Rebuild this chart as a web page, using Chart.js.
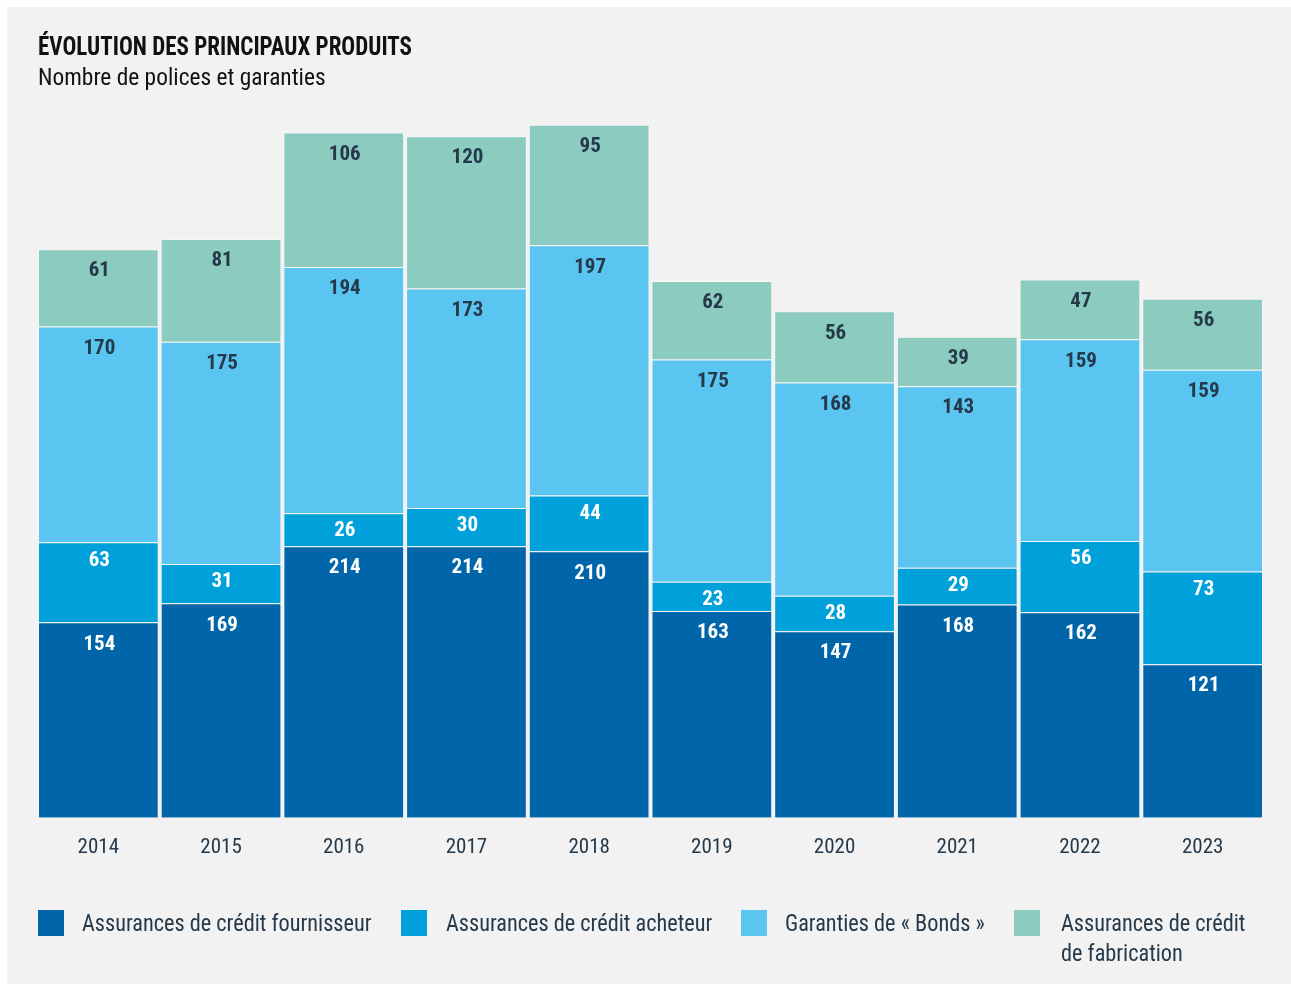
<!DOCTYPE html>
<html lang="fr">
<head>
<meta charset="utf-8">
<title>Évolution des principaux produits</title>
<script src="https://cdn.jsdelivr.net/npm/chart.js@4"></script>
<style>
  html, body { margin: 0; padding: 0; background: #fff; }
  body { width: 1291px; height: 985px; position: relative; overflow: hidden;
         font-family: "Roboto Condensed", "Roboto", sans-serif; color: #25394a; }
  #panneau { position: absolute; left: 7px; top: 7px; right: 0; bottom: 1px; background: #f2f2f2; }
  #zone { position: absolute; left: 0; top: 0; width: 1291px; height: 985px; }
  #titre { position: absolute; left: 38px; top: 31px; font-size: 26px; font-weight: bold; color: #111;
           transform: scaleX(0.885); transform-origin: left top; white-space: nowrap; }
  #soustitre { position: absolute; left: 38px; top: 63px; font-size: 24px; color: #111;
               transform: scaleX(0.975); transform-origin: left top; white-space: nowrap; }
  .leg { position: absolute; top: 910px; font-size: 24px; line-height: 30px; }
  .leg span.carre { position: absolute; left: 0; top: 0; width: 26px; height: 26px; }
  .leg span.txt { position: absolute; top: -2px; white-space: nowrap;
                  transform: scaleX(0.928); transform-origin: left top; }
</style>
</head>
<body>
<div id="panneau"></div>
<div id="zone"><canvas id="grafico"></canvas></div>
<div id="titre">ÉVOLUTION DES PRINCIPAUX PRODUITS</div>
<div id="soustitre">Nombre de polices et garanties</div>
<div id="legende"></div>

<script>
const annees = ['2014', '2015', '2016', '2017', '2018', '2019', '2020', '2021', '2022', '2023'];
const creditFournisseur = [154, 169, 214, 214, 210, 163, 147, 168, 162, 121];
const creditAcheteur = [63, 31, 26, 30, 44, 23, 28, 29, 56, 73];
const garantiesBonds = [170, 175, 194, 173, 197, 175, 168, 143, 159, 159];
const creditFabrication = [61, 81, 106, 120, 95, 62, 56, 39, 47, 56];

const nomsSeries = ['Assurances de crédit fournisseur', 'Assurances de crédit acheteur', 'Garanties de « Bonds »', 'Assurances de crédit\nde fabrication'];
const couleurs = ['#0066a9', '#00a0db', '#5bc5f1', '#8ccbbf'];
const couleursTexte = ['#ffffff', '#ffffff', '#25394a', '#25394a'];
const decalages = [22, 18, 22, 22];
const police = '"Roboto Condensed", Roboto, sans-serif';

// legende en html
const posLegende = [[38, 82], [401, 446], [741, 785], [1014, 1061]];
const legende = document.getElementById('legende');
nomsSeries.forEach((nom, i) => {
  const item = document.createElement('div');
  item.className = 'leg';
  item.style.left = posLegende[i][0] + 'px';
  item.innerHTML = `<span class="carre" style="background:${couleurs[i]}"></span>` +
    `<span class="txt" style="left:${posLegende[i][1] - posLegende[i][0]}px">${nom.replace('\n', '<br>')}</span>`;
  legende.appendChild(item);
});

// valeurs dans les barres
const etiquettes = {
  id: 'etiquettes',
  afterDatasetsDraw(chart) {
    const ctx = chart.ctx;
    ctx.save();
    ctx.font = 'bold 21px ' + police;
    ctx.textAlign = 'center';
    ctx.textBaseline = 'middle';
    chart.data.datasets.forEach((ds, i) => {
      chart.getDatasetMeta(i).data.forEach((barre, j) => {
        ctx.fillStyle = couleursTexte[i];
        ctx.fillText(ds.data[j], barre.x + 1, barre.y + decalages[i]);
      });
    });
    ctx.restore();
  }
};

const series = [creditFournisseur, creditAcheteur, garantiesBonds, creditFabrication];
const ctx = document.getElementById('grafico').getContext('2d');
const grafico = new Chart(ctx, {
  type: 'bar',
  data: {
    labels: annees,
    datasets: series.map((valeurs, i) => ({
      label: nomsSeries[i],
      data: valeurs,
      backgroundColor: couleurs[i],
      borderColor: 'rgba(255,255,255,0.45)',
      borderWidth: 1,
      barPercentage: 0.984,
      categoryPercentage: 1
    }))
  },
  options: {
    responsive: true,
    maintainAspectRatio: false,
    animation: false,
    layout: { padding: { left: 37, right: 27, top: 107, bottom: 108 } },
    plugins: {
      legend: { display: false },
      tooltip: { enabled: false }
    },
    scales: {
      x: {
        stacked: true,
        grid: { display: false, drawTicks: false },
        border: { display: false },
        ticks: { color: '#25394a', padding: 17, font: { family: police, size: 21 } }
      },
      y: {
        stacked: true,
        display: false,
        min: 0,
        max: 560
      }
    }
  },
  plugins: [etiquettes]
});
</script>
</body>
</html>
